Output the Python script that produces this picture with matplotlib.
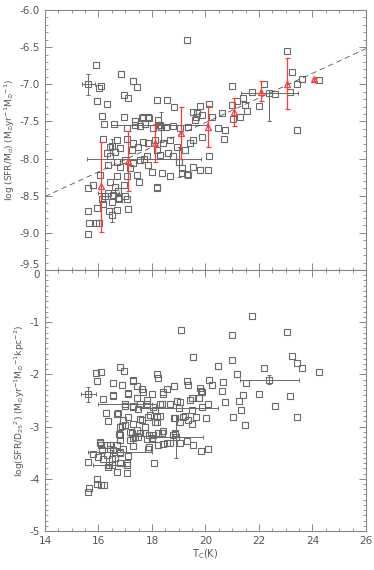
import matplotlib
matplotlib.use("Agg")
import matplotlib.pyplot as plt
from matplotlib.ticker import MultipleLocator, FormatStrFormatter

# ---------------- data: top panel (log SFR/Md vs Tc) ----------------
top_T = [15.90, 16.83, 16.02, 16.09, 17.28, 17.44, 15.93, 16.95, 17.10, 16.33,
         16.13, 16.95, 16.22, 16.58, 16.18, 19.30, 18.81, 17.07, 17.35, 17.61,
         17.75, 17.55, 17.89, 18.05, 18.21, 18.31, 18.51, 18.80, 19.05, 19.36,
         18.55, 17.30, 17.05, 16.68, 16.43, 16.31, 16.62, 16.80, 17.24, 17.49,
         17.68, 17.86, 18.11, 18.42, 18.67, 18.92, 19.23, 18.18, 18.30, 18.61,
         18.80, 17.80, 17.55, 17.30, 16.99, 16.68, 16.43, 16.37, 16.80, 17.18,
         17.43, 17.86, 17.99, 18.36, 18.67, 19.11, 19.36, 17.05, 16.68, 16.43,
         16.62, 16.74, 16.95, 17.53, 18.18, 15.62, 15.81, 16.06, 16.24, 16.53,
         16.74, 16.99, 15.62, 15.66, 15.91, 16.03, 15.60, 15.93, 16.12, 16.18,
         16.40, 16.49, 16.68, 16.78, 17.05, 17.09, 18.20, 23.06, 23.25, 23.41,
         23.62, 24.25, 22.20, 21.75, 22.60, 23.16, 23.43, 20.98, 21.19, 21.41,
         20.98, 21.48, 21.54, 22.01, 21.29, 21.04, 20.60, 20.23, 20.14, 19.79,
         19.86, 19.67, 19.61, 20.48, 20.73, 20.70, 19.86, 19.54, 19.42, 20.12,
         19.52, 19.30, 19.79, 20.10, 19.11, 18.20, 19.52, 19.64, 17.68, 17.86,
         17.36, 16.49, 18.34, 19.00]
top_V = [-6.74, -6.86, -7.05, -7.02, -6.96, -7.04, -7.22, -7.14, -7.18, -7.27,
         -7.43, -7.44, -7.53, -7.53, -7.74, -6.40, -7.31, -7.59, -7.49, -7.46,
         -7.53, -7.56, -7.45, -7.59, -7.48, -7.55, -7.58, -7.56, -7.59, -7.58,
         -7.21, -7.79, -7.73, -7.75, -7.84, -7.93, -7.91, -7.86, -7.88, -7.84,
         -7.77, -7.79, -7.75, -7.79, -7.75, -7.84, -7.88, -7.88, -7.95, -7.93,
         -7.97, -7.97, -8.02, -8.06, -8.02, -8.04, -7.97, -8.09, -8.11, -8.13,
         -8.22, -8.09, -8.18, -8.20, -8.24, -8.20, -8.22, -8.23, -8.24, -8.31,
         -8.38, -8.43, -8.36, -8.31, -8.38, -8.39, -8.36, -8.22, -8.51, -8.49,
         -8.53, -8.51, -8.71, -8.87, -8.87, -8.87, -9.01, -8.67, -8.55, -8.61,
         -8.71, -8.58, -8.69, -8.55, -8.55, -8.68, -8.39, -6.55, -6.84, -6.99,
         -6.93, -6.94, -7.00, -7.10, -7.13, -7.11, -7.61, -7.02, -7.22, -7.18,
         -7.28, -7.28, -7.36, -7.29, -7.44, -7.47, -7.38, -7.44, -7.26, -7.29,
         -7.41, -7.38, -7.48, -7.59, -7.61, -7.73, -7.71, -7.75, -7.79, -7.96,
         -8.11, -8.21, -8.15, -8.16, -8.13, -7.21, -7.37, -7.44, -7.44, -7.44,
         -7.55, -7.83, -7.57, -8.05]

# gray points with error bars (top)
top_err_T = [15.62, 18.25, 17.70, 18.34, 19.00, 22.39, 16.49, 16.49, 16.37]
top_err_V = [-7.00, -7.55, -8.00, -7.57, -8.05, -7.12, -8.76, -7.83, -8.46]
top_err_xe = [0.25, 1.80, 2.14, 0.0, 0.0, 1.07, 0.0, 0.0, 0.39]
top_err_ylo = [0.14, 0.0, 0.0, 0.20, 0.20, 0.37, 0.10, 0.10, 0.0]
top_err_yhi = [0.14, 0.0, 0.0, 0.20, 0.20, 0.05, 0.10, 0.10, 0.0]

# red binned means (triangles)
bin_T = [16.09, 17.09, 18.10, 19.08, 20.08, 21.08, 22.07, 23.06, 24.06]
bin_V = [-8.37, -8.03, -7.79, -7.65, -7.58, -7.37, -7.11, -6.99, -6.93]
bin_lo = [0.62, 0.40, 0.26, 0.36, 0.27, 0.19, 0.11, 0.34, 0.02]
bin_hi = [0.60, 0.40, 0.26, 0.35, 0.29, 0.19, 0.15, 0.35, 0.02]

# dashed fit line end points
fit_T = [14.0, 26.0]
fit_V = [-8.51, -6.52]

# ---------------- data: bottom panel (log SFR/D25^2 vs Tc) ----------------
bot_T = [19.08, 15.90, 16.09, 15.93, 16.80, 16.95, 18.20, 18.22, 16.55, 16.87,
         17.28, 17.44, 17.61, 18.82, 18.55, 19.30, 16.18, 16.55, 17.09, 17.68,
         17.99, 18.42, 18.92, 16.28, 16.34, 16.74, 16.99, 17.30, 17.49, 17.80,
         18.05, 18.36, 18.30, 17.86, 17.55, 17.11, 16.87, 17.28, 17.74, 18.11,
         18.42, 18.82, 19.05, 19.23, 16.75, 18.80, 21.75, 23.06, 20.98, 19.52,
         20.98, 23.25, 23.41, 23.62, 24.25, 22.20, 20.48, 21.19, 21.51, 19.36,
         20.14, 20.23, 20.67, 20.60, 19.79, 19.86, 22.01, 21.41, 21.26, 20.73,
         23.16, 22.60, 21.34, 21.04, 21.48, 23.43, 20.02, 19.64, 19.48, 19.36,
         19.77, 20.10, 15.62, 15.66, 15.93, 15.96, 16.08, 16.21, 15.62, 15.78,
         15.99, 16.18, 16.31, 16.06, 16.09, 16.31, 16.43, 16.53, 16.37, 16.49,
         16.68, 16.80, 17.05, 17.08, 17.05, 16.62, 16.80, 17.11, 16.93, 16.68,
         16.80, 17.18, 17.36, 17.24, 17.43, 17.30, 17.80, 17.89, 18.05, 17.99,
         18.24, 18.36, 17.90, 18.24, 18.42, 18.67, 18.86, 19.05, 19.30, 19.52,
         19.82, 20.10, 18.07, 17.55, 16.55, 17.11, 17.30, 16.70, 16.93, 16.80,
         16.99, 17.18, 16.80, 17.30, 17.49, 17.74, 17.99, 17.86, 17.30, 17.55,
         17.80, 17.43, 18.11, 17.93, 17.61, 18.18, 16.06, 16.12, 16.43, 19.82,
         18.42, 19.42, 19.48, 19.77, 19.05, 18.67, 18.30, 19.48, 19.86, 19.17,
         18.86, 18.18, 18.86, 18.55]
bot_V = [-1.15, -1.97, -1.96, -2.12, -1.86, -1.94, -2.00, -2.06, -2.16, -2.20,
         -2.13, -2.22, -2.28, -2.23, -2.28, -2.12, -2.47, -2.42, -2.37, -2.34,
         -2.37, -2.37, -2.50, -2.74, -2.90, -2.74, -2.60, -2.60, -2.66, -2.56,
         -2.63, -2.56, -2.79, -2.82, -2.85, -2.82, -2.98, -2.95, -3.01, -2.92,
         -3.08, -2.83, -2.92, -2.79, -3.14, -3.17, -0.88, -1.18, -1.24, -1.67,
         -1.73, -1.65, -1.79, -1.87, -1.96, -1.87, -1.83, -2.00, -2.17, -2.20,
         -2.10, -2.20, -2.15, -2.31, -2.26, -2.33, -2.38, -2.40, -2.50, -2.53,
         -2.42, -2.60, -2.69, -2.82, -2.96, -2.81, -2.83, -2.81, -2.95, -2.87,
         -2.45, -2.56, -4.25, -4.18, -4.01, -4.10, -4.12, -4.11, -3.67, -3.52,
         -3.58, -3.63, -3.54, -3.31, -3.35, -3.35, -3.42, -3.45, -3.77, -3.74,
         -3.86, -3.70, -3.70, -3.74, -3.88, -3.61, -3.51, -3.56, -3.42, -3.35,
         -3.26, -3.26, -3.19, -3.12, -3.07, -3.38, -3.23, -3.16, -3.16, -3.23,
         -3.13, -3.13, -3.40, -3.35, -3.33, -3.31, -3.13, -3.31, -3.27, -3.35,
         -3.46, -3.43, -3.70, -3.12, -2.39, -2.36, -2.11, -2.75, -2.87, -3.00,
         -2.97, -3.10, -3.16, -3.22, -3.19, -3.13, -3.22, -3.42, -2.62, -2.56,
         -2.49, -2.46, -2.68, -2.78, -2.87, -2.91, -3.29, -3.45, -3.35, -2.31,
         -2.33, -2.49, -2.46, -2.46, -2.52, -2.56, -2.57, -2.68, -2.63, -2.82,
         -2.84, -2.81, -3.14, -3.32]

bot_err_T = [15.62, 17.00, 19.00, 22.39, 18.90, 16.80, 16.40, 16.49]
bot_err_V = [-2.38, -2.56, -2.65, -2.10, -3.19, -3.48, -3.74, -3.62]
bot_err_xe = [0.27, 1.00, 1.45, 1.10, 1.00, 1.20, 0.60, 0.0]
bot_err_ye = [0.14, 0.0, 0.0, 0.08, 0.42, 0.0, 0.0, 0.18]

# ---------------- styling ----------------
GRAY = '#6a6a6a'
TXT = '#555555'
plt.rcParams['font.family'] = ['DejaVu Sans']
plt.rcParams['mathtext.fontset'] = 'dejavusans'

fig = plt.figure(figsize=(3.74, 5.70), dpi=100)
ax1 = fig.add_axes([0.1203, 0.5263, 0.8583, 0.4561])
ax2 = fig.add_axes([0.1203, 0.0684, 0.8583, 0.4579])

sq = dict(marker='s', linestyle='none', mfc='none', mec=GRAY, mew=0.8, ms=5.0)

# top panel
ax1.errorbar(top_err_T, top_err_V, xerr=top_err_xe, yerr=[top_err_ylo, top_err_yhi],
             fmt='none', ecolor=GRAY, elinewidth=0.7, capsize=1.5, capthick=0.7)
ax1.plot(top_T, top_V, **sq)
ax1.plot(top_err_T, top_err_V, **sq)
ax1.plot(fit_T, fit_V, linestyle=(0, (7, 5)), color='#444444', lw=0.55)
ax1.errorbar(bin_T, bin_V, yerr=[bin_lo, bin_hi], fmt='none', ecolor='#ff3b3b',
             elinewidth=0.9, capsize=1.8, capthick=0.9)
ax1.plot(bin_T, bin_V, marker='^', linestyle='none', mfc='none', mec='#ff3b3b',
         mew=0.9, ms=4.5)

ax1.set_xlim(14, 26)
ax1.set_ylim(-9.5, -6.0)
ax1.xaxis.set_major_locator(MultipleLocator(2))
ax1.xaxis.set_minor_locator(MultipleLocator(0.5))
ax1.yaxis.set_major_locator(MultipleLocator(0.5))
ax1.yaxis.set_minor_locator(MultipleLocator(0.1))
ax1.yaxis.set_major_formatter(FormatStrFormatter('%.1f'))
ax1.set_xticklabels([])
ax1.set_ylabel(r'log (SFR/M$_{\rm d}$) (M$_{\odot}$yr$^{-1}$M$_{\odot}$$^{-1}$)',
               fontsize=6.5, color=TXT, labelpad=2)

# bottom panel
ax2.errorbar(bot_err_T, bot_err_V, xerr=bot_err_xe, yerr=bot_err_ye,
             fmt='none', ecolor=GRAY, elinewidth=0.7, capsize=1.5, capthick=0.7)
ax2.plot(bot_T, bot_V, **sq)
ax2.plot(bot_err_T, bot_err_V, **sq)
ax2.set_xlim(14, 26)
ax2.set_ylim(-5, 0)
ax2.xaxis.set_major_locator(MultipleLocator(2))
ax2.xaxis.set_minor_locator(MultipleLocator(0.5))
ax2.yaxis.set_major_locator(MultipleLocator(1))
ax2.yaxis.set_minor_locator(MultipleLocator(0.1))
ax2.yaxis.set_major_formatter(FormatStrFormatter('%d'))
ax2.set_ylabel(r'log(SFR/D$_{25}$$^{2}$) (M$_{\odot}$yr$^{-1}$M$_{\odot}$$^{-1}$kpc$^{-2}$)',
               fontsize=6.5, color=TXT, labelpad=2)
ax2.set_xlabel(r'T$_{\rm C}$(K)', fontsize=7, color=TXT, labelpad=1)

for ax in (ax1, ax2):
    for s in ax.spines.values():
        s.set_color('#888888')
        s.set_linewidth(0.8)
    ax.tick_params(which='both', direction='in', top=True, right=True,
                   colors='#888888', labelcolor=TXT, labelsize=7.5)
    ax.tick_params(which='major', length=5, width=0.7)
    ax.tick_params(which='minor', length=2.5, width=0.6)

# keep the shared-boundary labels (-9.5 and 0) from colliding
fig.canvas.draw()
for t in ax1.yaxis.get_major_ticks():
    if abs(t.get_loc() + 9.5) < 1e-6:
        t.label1.set_verticalalignment('bottom')
for t in ax2.yaxis.get_major_ticks():
    if abs(t.get_loc()) < 1e-6:
        t.label1.set_verticalalignment('top')

fig.savefig('out.png', dpi=100)
